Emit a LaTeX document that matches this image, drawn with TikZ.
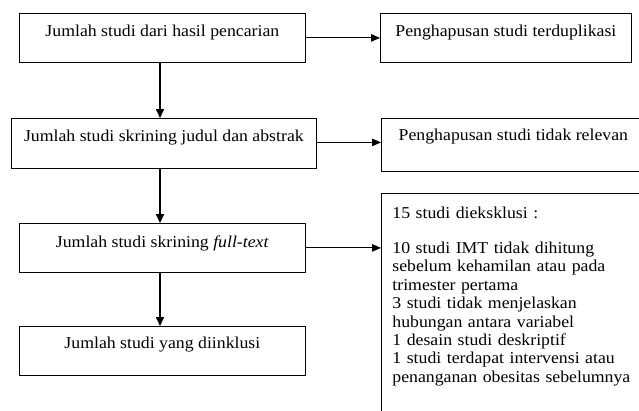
\documentclass[tikz,border=0pt]{standalone}
\usepackage{fontspec}
\setmainfont{Liberation Serif}[FakeStretch=1.07]
\usetikzlibrary{arrows.meta}
\begin{document}
\begin{tikzpicture}[x=1pt,y=-1pt,
  box/.style={draw, line width=0.8pt, inner sep=0pt, anchor=north west,
    font=\fontsize{16.6}{18.4}\selectfont},
  arr/.style={line width=1.6pt, -{Triangle[length=9pt,width=8pt]}},
  harr/.style={line width=1.1pt, -{Triangle[length=9pt,width=7.5pt]}}]
\useasboundingbox (0,0) rectangle (639,410);
\clip (0,0) rectangle (639,410);
\coordinate (ax) at (160,0);
% left column
\node[box, minimum width=286pt, text height=23pt, text depth=26pt] (b1) at (19,13)
  {Jumlah studi dari hasil pencarian};
\node[box, minimum width=305pt, text height=23pt, text depth=27pt] (b2) at (11,118)
  {Jumlah studi skrining judul dan abstrak};
\node[box, minimum width=286pt, text height=24pt, text depth=25pt] (b3) at (19,223)
  {Jumlah studi skrining \textit{full-text}};
\node[box, minimum width=286pt, text height=22pt, text depth=27pt] (b4) at (19,326)
  {Jumlah studi yang diinklusi};
% right column
\node[box, minimum width=251pt, text height=23pt, text depth=26pt] (r1) at (380,13)
  {Penghapusan studi terduplikasi};
\node[box, minimum width=264pt, text height=22pt, text depth=31pt] (r2) at (381,118)
  {Penghapusan studi tidak relevan};
\node[box, inner xsep=11pt, text width=260pt, align=left, text height=25pt, text depth=230pt] (r3) at (381,193)
  {15 studi dieksklusi :\\[16.6pt]
   10 studi IMT tidak dihitung\\
   sebelum kehamilan atau pada\\
   trimester pertama\\
   3 studi tidak menjelaskan\\
   hubungan antara variabel\\
   1 desain studi deskriptif\\
   1 studi terdapat intervensi atau\\
   penanganan obesitas sebelumnya};
% connectors
\draw[arr] (b1.south -| ax) -- (b2.north -| ax);
\draw[arr] (b2.south -| ax) -- (b3.north -| ax);
\draw[arr] (b3.south -| ax) -- (b4.north -| ax);
\draw[harr] (b1.east) -- (b1.east -| r1.west);
\draw[harr] ([yshift=1pt]b2.east) -- ([yshift=1pt]b2.east -| r2.west);
\draw[harr] (b3.east) -- (b3.east -| r3.west);
\end{tikzpicture}
\end{document}
